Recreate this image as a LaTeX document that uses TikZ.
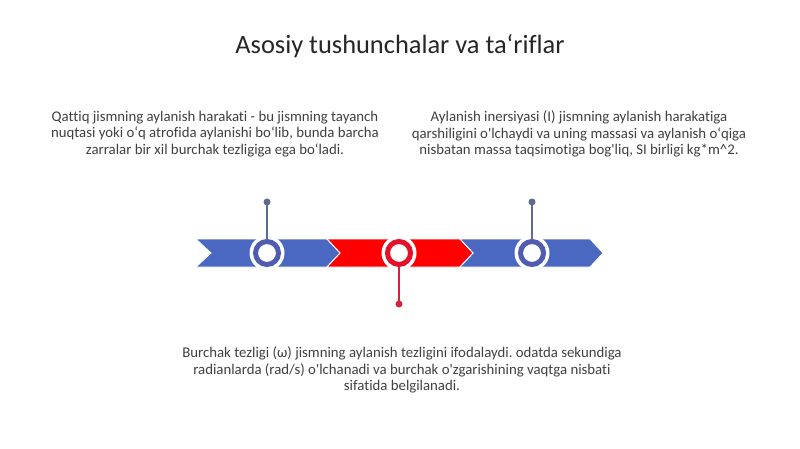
\documentclass[tikz,border=0pt]{standalone}
\usepackage{fontspec}
\setmainfont{Carlito}[Ligatures={TeXOff,NoCommon}]
\definecolor{chevblue}{HTML}{4A68C2}
\definecolor{chevred}{HTML}{FF0000}
\definecolor{ringblue}{HTML}{4F5CB0}
\definecolor{ringred}{HTML}{E5102A}
\definecolor{stemblue}{HTML}{5E6B8E}
\definecolor{stemred}{HTML}{D8203E}
\definecolor{bodytext}{HTML}{404040}
\definecolor{titletext}{HTML}{262626}
\begin{document}
\frenchspacing
\begin{tikzpicture}[x=1pt,y=-1pt,
  bodynode/.style={text=bodytext,align=center,font=\fontsize{14.8}{16.7}\selectfont,inner sep=0pt},
  titlenode/.style={text=titletext,font=\fontsize{26.4}{30}\selectfont,inner sep=0pt},
  chev/.style={draw=white,line width=0.8pt,line join=miter},
  dotnode/.style={circle,inner sep=0pt,minimum size=7pt},
  stem/.style={line width=1.6pt}
]
\useasboundingbox[fill=white] (0,0) rectangle (800,449);
\node[titlenode] (title) at (400,46) {Asosiy tushunchalar va taʻriflar};

% chevrons
\fill[fill=chevblue] (196,239) -- (327,239) -- (340,253) -- (327,267) -- (196,267) -- (211,253) -- cycle;
\fill[fill=chevred] (327,239) -- (460,239) -- (473,253) -- (460,267) -- (327,267) -- (340,253) -- cycle;
\fill[fill=chevblue] (460,239) -- (590,239) -- (603,253) -- (590,267) -- (460,267) -- (473,253) -- cycle;
\draw[chev] (196,239) -- (327,239) -- (340,253) -- (327,267) -- (196,267) -- (211,253) -- cycle;
\draw[chev] (327,239) -- (460,239) -- (473,253) -- (460,267) -- (327,267) -- (340,253) -- cycle;
\draw[chev] (460,239) -- (590,239) -- (603,253) -- (590,267) -- (460,267) -- (473,253) -- cycle;

% rings
\node[circle,fill=white,minimum size=35pt,inner sep=0pt] (c1) at (267,253) {};
\node[circle,fill=white,minimum size=35pt,inner sep=0pt] (c2) at (399,253) {};
\node[circle,fill=white,minimum size=35pt,inner sep=0pt] (c3) at (532,253) {};
\draw[ringblue,line width=5pt,fill=white] (c1.center) circle[radius=11.5];
\draw[ringred,line width=5pt,fill=white] (c2.center) circle[radius=11.5];
\draw[ringblue,line width=5pt,fill=white] (c3.center) circle[radius=11.5];

% stems and dots
\coordinate (s1) at (267,239.5);
\coordinate (s2) at (399,266.5);
\coordinate (s3) at (532,239.5);
\node[dotnode,fill=stemblue] (d1) at (267,202) {};
\node[dotnode,fill=stemred] (d2) at (399,304) {};
\node[dotnode,fill=stemblue] (d3) at (532,202) {};
\draw[stem,stemblue] (d1.center) -- (s1);
\draw[stem,stemred] (d2.center) -- (s2);
\draw[stem,stemblue] (d3.center) -- (s3);

% texts
\node[bodynode] (t1) at (215,134) {Qattiq jismning aylanish harakati - bu jismning tayanch\\nuqtasi yoki oʻq atrofida aylanishi boʻlib, bunda barcha\\zarralar bir xil burchak tezligiga ega boʻladi.};
\node[bodynode] (t2) at (579,134) {Aylanish inersiyasi (I) jismning aylanish harakatiga\\qarshiligini o'lchaydi va uning massasi va aylanish oʻqiga\\nisbatan massa taqsimotiga bog'liq, SI birligi kg*m\^{}2.};
\node[bodynode] (t3) at (402,370) {Burchak tezligi (ω) jismning aylanish tezligini ifodalaydi. odatda sekundiga\\radianlarda (rad/s) o'lchanadi va burchak o'zgarishining vaqtga nisbati\\sifatida belgilanadi.};
\end{tikzpicture}
\end{document}
